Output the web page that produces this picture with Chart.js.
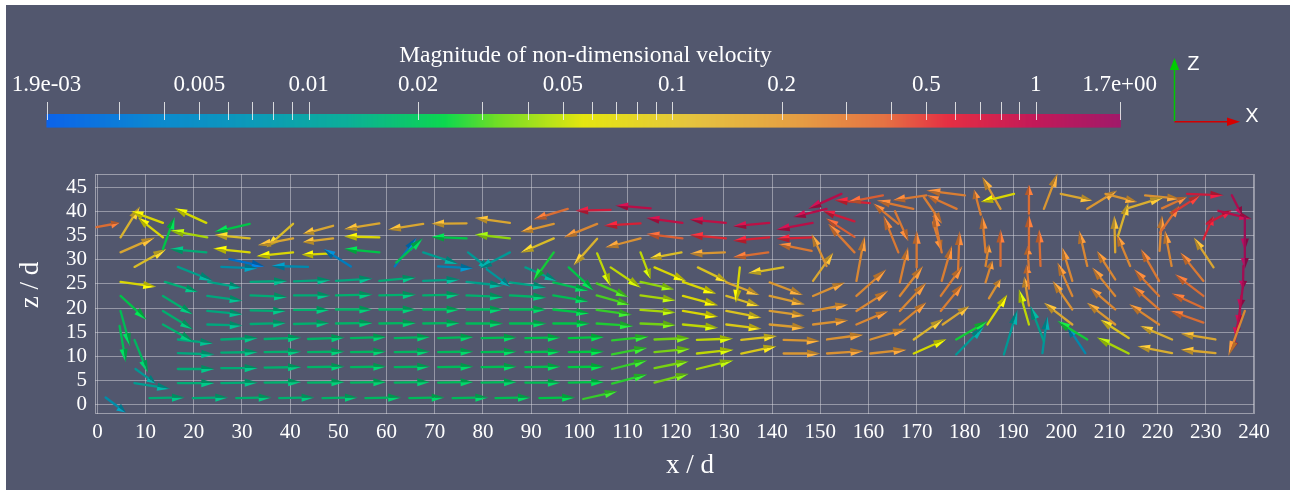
<!DOCTYPE html>
<html>
<head>
<meta charset="utf-8">
<script src="https://cdn.jsdelivr.net/npm/chart.js@4.4.0/dist/chart.umd.min.js"></script>
<style>
  html, body { margin: 0; padding: 0; background: #ffffff; }
  #velChart { display: block; }
</style>
</head>
<body>
<canvas id="velChart" width="1290" height="490"></canvas>
<script>
// ---- data: arrows as [x/d, z/d, dx, dz, |u|] (dx,dz = projected glyph in d units) ----
const jetRow01 = [[10.8,1.4,7.3,0.1,0.015],[19.8,1.4,7.3,0.1,0.015],[28.8,1.4,7.3,0.1,0.016],[37.7,1.4,7.3,0.1,0.016],[46.7,1.4,7.3,0.1,0.017],[55.6,1.4,7.4,0.1,0.018],[64.7,1.4,7.3,0.1,0.019],[73.7,1.4,7.4,0.1,0.019],[82.6,1.4,7.3,0.1,0.02],[91.7,1.4,7.4,0.1,0.022],[100.8,1.2,7.1,1.6,0.028]];
const jetRow05 = [[16.7,4.5,7.6,0,0.015],[25.7,4.5,7.6,0.1,0.015],[34.7,4.6,7.6,0.1,0.016],[43.7,4.6,7.6,0.1,0.017],[52.6,4.6,7.3,0.1,0.018],[61.7,4.6,7.3,0.1,0.018],[70.7,4.6,7.3,0.1,0.019],[79.7,4.6,7.3,0.1,0.019],[88.8,4.6,7.3,0,0.02],[97.8,4.6,7.3,0.1,0.022],[106.8,4.4,7.3,1.9,0.027],[115.6,4.6,7.1,1.8,0.035]];
const jetRow08 = [[16.7,7.4,7.6,0,0.015],[25.7,7.6,7.6,0,0.015],[34.7,7.7,7.6,0.1,0.016],[43.7,7.8,7.6,0.1,0.017],[52.6,7.8,7.3,0.1,0.018],[61.7,7.8,7.3,0.1,0.018],[70.7,7.8,7.3,0.1,0.019],[79.7,7.8,7.3,0.1,0.02],[88.8,7.8,7.3,0.1,0.021],[97.8,7.8,7.3,0.1,0.023],[106.8,7.4,7.3,1.8,0.028],[115.6,7.6,7.1,1.4,0.036],[124.4,7.4,7.6,1.8,0.045]];
const jetRow11 = [[16.7,10.7,7.6,-0.3,0.014],[25.7,10.8,7.6,0.1,0.015],[34.7,10.9,7.6,0.1,0.016],[43.7,10.9,7.6,0.1,0.017],[52.6,10.9,7.3,0.1,0.018],[61.7,10.9,7.3,0.1,0.018],[70.7,10.9,7.3,0.1,0.019],[79.7,10.9,7.3,0.1,0.02],[88.8,10.9,7.3,0.1,0.021],[97.8,10.9,7.3,0.1,0.023],[106.8,10.4,7.3,1.4,0.028],[115.6,10.9,7.4,0.7,0.036],[124.4,10.6,7.6,0.8,0.05],[133.6,10.6,7.3,1.5,0.08],[142.4,10.6,7.6,0,0.2],[151.4,10.6,7.6,0.5,0.22],[160.4,10.6,7.5,0.8,0.22],[169.4,10.6,6.8,3.0,0.055]];
const jetRow14 = [[16.7,13.5,7.3,-0.8,0.014],[25.7,13.5,7.6,0.3,0.015],[34.7,13.6,7.6,0.3,0.016],[43.7,13.6,7.6,0.3,0.017],[52.6,13.8,7.3,0.2,0.018],[61.7,13.8,7.3,0.2,0.018],[70.7,13.8,7.3,0.2,0.019],[79.7,13.8,7.3,0.1,0.02],[88.8,13.8,7.3,0.1,0.021],[97.8,13.8,7.3,0.2,0.023],[106.8,13.3,7.6,0.8,0.027],[115.6,13.5,7.3,0.3,0.035],[124.4,13.4,7.5,0.3,0.05],[133.6,13.4,7.4,0.8,0.09],[142.4,13.4,7.5,-0.2,0.2],[151.4,13.5,7.5,1.0,0.22],[160.4,13.5,7.5,2.2,0.22],[169.4,13.5,6.1,4.3,0.12]];
const jetRow17 = [[22.8,16.6,7.3,-0.2,0.014],[31.8,16.7,7.3,0.2,0.015],[40.8,16.7,7.3,0.2,0.016],[49.5,16.8,7.6,0.1,0.017],[58.5,16.8,7.6,0.1,0.018],[67.6,16.8,7.6,0.1,0.018],[76.6,16.8,7.6,0,0.019],[85.6,16.8,7.6,0,0.02],[94.6,16.8,7.6,0,0.022],[103.6,16.8,7.6,-0.5,0.026],[112.7,16.8,7.3,-0.3,0.035],[121.5,16.6,7.3,-0.7,0.05],[130.5,16.6,7.3,-0.9,0.08],[139.5,16.6,7.3,-0.7,0.18],[148.5,16.6,7.3,0.9,0.22],[157.5,16.6,6.6,2.8,0.25],[166.5,16.6,5.5,4.6,0.25],[175.4,16.6,5.5,3.8,0.15]];
const jetRow20 = [[22.8,19.4,7.3,-0.7,0.014],[31.8,19.5,7.3,-0.1,0.015],[40.8,19.6,7.3,0,0.016],[49.5,19.7,7.6,0,0.017],[58.5,19.7,7.6,0,0.017],[67.6,19.7,7.6,0,0.018],[76.6,19.7,7.6,0,0.018],[85.6,19.7,7.6,0,0.019],[94.6,19.7,7.5,-0.8,0.022],[103.6,19.6,7.3,-1.0,0.028],[112.7,19.6,7.3,-0.5,0.045],[121.5,19.4,7.3,-1.2,0.06],[130.5,19.4,7.3,-1.4,0.09],[139.5,19.4,7.3,-1.0,0.18],[148.5,19.4,7.3,1.4,0.22],[157.5,19.4,6.6,4.2,0.25],[166.5,19.4,5.5,5.9,0.25],[175.0,19.4,4.5,5.5,0.28]];
const jetRow23 = [[22.8,22.5,7.3,-1.0,0.014],[31.8,22.6,7.6,-0.3,0.015],[40.8,22.6,7.6,0,0.015],[49.5,22.6,7.6,0.2,0.016],[58.5,22.6,7.6,0.2,0.016],[67.6,22.6,7.6,0.2,0.016],[76.6,22.6,7.6,-0.3,0.016],[85.6,22.6,7.6,-0.4,0.017],[94.6,22.6,7.3,-1.2,0.02],[103.6,22.6,6.9,-1.9,0.03],[112.7,22.6,7.3,-1.0,0.045],[121.5,22.5,7.3,-1.9,0.06],[130.5,22.5,6.9,-2.1,0.1],[139.5,22.5,7.3,-1.7,0.18],[148.5,22.5,6.6,2.8,0.22],[157.5,22.5,6.2,5.5,0.25],[166.5,22.5,4.8,6.2,0.25],[175.0,22.5,4.5,6.2,0.28]];
const jetRow25 = [[23.0,25.4,6.9,-1.2,0.013],[31.8,25.4,7.6,0.2,0.014],[40.8,25.5,7.6,0.3,0.014],[49.5,25.6,7.6,0.5,0.014],[58.5,25.6,7.6,0.7,0.015],[67.6,25.6,7.6,0.3,0.013],[76.6,25.4,7.6,-0.8,0.012],[85.6,25.3,7.6,-1.0,0.013],[94.6,25.3,7.3,-1.7,0.02],[103.6,25.1,6.6,-2.8,0.03],[112.7,25.4,7.0,-1.5,0.04],[121.5,25.4,6.9,-2.4,0.06],[130.5,25.3,6.9,-2.6,0.15],[139.5,25.3,6.9,-2.6,0.2],[148.5,25.6,4.2,5.9,0.15],[157.5,25.6,1.7,9.3,0.25],[166.5,25.3,1.7,7.3,0.27],[175.2,25.6,2.1,7.3,0.28]];

const inletVortex = [[1.7,1.5,4.2,-3.1,0.007],[7.7,4.5,7.4,-1.2,0.011],[7.9,7.4,4.2,-3.0,0.01],[7.7,13.4,2.8,-6.8,0.018],[4.6,16.3,1.3,-7.5,0.02],[4.8,19.4,2.0,-7.3,0.02],[4.8,22.5,5.4,-4.9,0.022],[4.8,25.4,7.4,-1.0,0.06],[13.6,22.5,6.2,-3.8,0.016],[13.6,19.4,6.2,-3.8,0.016],[13.6,16.6,6.2,-3.5,0.016],[14.0,25.4,6.9,-2.1,0.015],[16.7,28.5,7.3,-2.9,0.012],[7.7,28.5,6.6,3.7,0.1],[4.8,31.5,7.1,3.1,0.15],[13.6,32.2,2.4,6.6,0.022],[4.8,34.6,4.0,6.4,0.12],[13.6,34.6,-5.2,4.1,0.06],[13.6,37.6,-6.6,2.4,0.06],[-0.2,36.7,4.8,0.9,0.35],[22.6,37.6,-6.6,3.0,0.055],[22.8,34.6,-7.7,1.4,0.045],[22.6,31.5,-7.6,0.7,0.015]];

const upperReturn = [[31.6,37.4,-7.3,-1.7,0.022],[31.6,34.4,-7.3,0.7,0.1],[31.6,31.5,-7.6,0.8,0.06],[40.6,37.4,-5.5,-4.9,0.1],[40.6,34.4,-7.3,-1.4,0.15],[40.6,31.5,-7.6,-0.8,0.06],[48.9,37.0,-6.3,-1.7,0.15],[48.9,34.4,-6.3,-0.8,0.15],[48.9,31.3,-6.5,-0.3,0.06],
  [27.4,30.1,7.3,-1.5,0.003],[25.7,28.5,7.6,-0.3,0.007],[43.7,28.5,-7.6,0.2,0.006],[52.6,28.6,-5.7,3.6,0.004],[61.7,28.6,4.5,5.9,0.0035],[62.0,29.4,5.5,5.0,0.02],[70.7,28.6,7.3,-0.4,0.005],[67.6,31.5,7.3,-2.4,0.011],
  [58.5,31.5,-7.3,0.7,0.022],[58.5,34.6,-7.3,0.2,0.06],[58.5,37.5,-7.3,-1.2,0.15],[67.6,37.4,-7.3,-1.2,0.15],[76.6,37.5,-7.3,-0.1,0.15],[85.6,37.6,-7.3,1.0,0.15],[76.6,34.4,-7.3,0.3,0.022],[85.6,34.4,-7.3,0.8,0.04],
  [76.9,31.5,4.2,-3.3,0.01],[85.6,31.5,-6.3,-3.3,0.01],[80.8,28.0,4.9,-3.6,0.009],[88.8,28.4,6.6,-2.8,0.012],[94.7,31.5,-4.2,-5.9,0.025],[97.8,28.4,5.2,-4.8,0.022],[103.7,31.3,2.8,-6.8,0.05],[106.5,28.4,6.3,-4.2,0.05],[112.7,31.5,2.1,-5.5,0.05],
  [94.7,37.4,-6.9,-1.7,0.2],[94.7,34.4,-6.9,-3.0,0.1],[97.6,40.5,-7.1,-2.2,0.35],[103.7,37.4,-6.9,-2.8,0.25],[103.7,34.3,-4.9,-5.5,0.12],[106.5,40.3,-7.3,-0.2,0.7],[112.7,37.5,-7.6,-0.5,0.6],[112.7,34.4,-7.3,-1.9,0.22],[114.8,40.6,-7.3,0.6,0.95],
  [115.6,28.4,6.6,-2.8,0.06],[124.6,28.4,6.2,-3.0,0.09],[133.3,28.4,-0.8,-7.3,0.06],[142.3,28.4,-7.3,-1.2,0.1],[121.2,31.5,-6.6,-1.2,0.1],[130.2,31.5,-7.3,-0.3,0.2],[139.2,31.5,-7.3,-1.0,0.35],[148.2,31.8,-6.9,1.4,0.3],
  [121.4,34.4,-7.5,0.9,0.4],[130.4,34.4,-7.5,0.7,0.55],[139.4,34.6,-7.5,-0.7,0.6],[148.4,34.6,-7.5,-0.3,0.6],[121.4,37.6,-7.5,1.0,0.9],[130.4,37.6,-7.5,0.7,0.9],[139.4,37.6,-7.5,-0.7,0.9],[148.4,37.6,-7.5,-1.4,0.95]];

const wakeVortex = [[151.3,40.5,-6.9,-1.7,1.0],[154.4,43.6,-6.9,-3.1,1.0],[157.1,37.9,-6.6,2.2,0.7],[157.1,34.7,-5.9,3.8,0.4],[157.1,31.5,-5.5,5.9,0.3],[151.3,28.7,-3.1,6.6,0.22],
  [160.3,41.7,-7.3,0.6,0.6],[163.0,43.3,-7.3,-1.4,0.4],[165.5,40.0,2.8,-6.2,0.3],[166.2,37.4,-5.2,4.2,0.3],[166.2,31.5,-3.1,7.6,0.3],[169.3,40.5,-7.6,1.7,0.3],[170.0,28.4,0,7.6,0.3],[172.0,43.3,-6.9,-1.0,0.3],
  [171.5,42.9,3.8,-5.5,0.28],[173.4,37.7,1.8,-5.9,0.28],[175.2,31.5,-1.7,8.3,0.3],[178.6,27.9,0.3,8.0,0.3],[178.3,40.5,-6.2,2.8,0.3],[180.0,43.3,-8.0,1.0,0.28],
  [178.2,13.5,6.5,3.8,0.025],[178.2,10.4,5.8,5.9,0.01],[184.7,16.6,4.1,6.2,0.06],[188.1,10.4,2.8,9.3,0.01],[193.3,16.6,-2.1,7.3,0.05],[196.1,10.7,1.0,7.6,0.009],[196.4,13.1,-2.8,7.3,0.012],[193.3,20.5,-1.0,6.0,0.2],
  [205.0,10.7,-3.8,5.7,0.006],[205.4,13.5,-6.2,3.8,0.025],[214.0,10.6,-6.6,3.3,0.045],[214.0,13.8,-5.9,3.8,0.09],[223.0,10.7,-7.2,1.4,0.13],[223.0,13.5,-6.6,2.8,0.13],[232.0,10.7,-7.2,0.7,0.15],[232.0,13.5,-7.2,1.2,0.15],
  [229.5,17.0,-6.9,2.4,0.35],[229.5,20.0,-6.6,3.0,0.35],[229.5,22.5,-5.9,4.5,0.35],[229.5,25.6,-4.8,5.9,0.3],[220.3,16.6,-6.2,4.2,0.25],[220.3,19.7,-5.5,4.8,0.3],[220.3,22.5,-5.2,5.5,0.3],[220.3,25.6,-3.8,6.6,0.3],
  [211.2,16.6,-5.9,4.5,0.2],[211.2,19.7,-5.2,4.5,0.25],[211.2,22.5,-4.8,5.9,0.25],[211.2,25.9,-3.8,5.9,0.25],[202.3,16.6,-5.9,4.5,0.15],[202.3,19.7,-4.1,5.9,0.22],[202.3,22.5,-3.1,6.9,0.25],[202.3,25.6,-2.1,6.9,0.25],
  [205.4,28.7,-1.7,7.3,0.25],[214.3,28.7,-2.8,6.6,0.25],[211.2,31.5,-0.2,7.6,0.15],[211.8,34.9,2.1,6.9,0.12],[220.4,31.8,0.5,7.3,0.25],[222.9,28.7,-1.4,7.3,0.25],[220.5,35.6,4.0,5.6,0.35],[231.6,28.4,-4.1,6.2,0.15],
  [184.3,25.3,1.4,4.5,0.25],[185.0,22.0,2.4,4.0,0.22],[184.3,28.7,0.7,4.5,0.25],[184.3,31.5,-0.7,7.6,0.28],[183.3,39.3,-1.4,5.2,0.28],[187.4,28.7,0,7.6,0.35],[193.3,24.0,-0.5,5.0,0.3],[193.3,28.0,-0.3,4.8,0.3],
  [193.3,32.0,0,7.3,0.35],[193.3,39.5,0,6.0,0.35],[195.7,28.7,-0.3,7.6,0.35],[196.4,40.5,2.8,7.3,0.2],[187.4,40.5,-3.8,6.6,0.2],[190.2,43.6,-6.9,-1.7,0.06],[199.9,43.6,6.6,-1.4,0.15],[205.4,40.5,6.2,3.8,0.2],
  [209.2,43.6,6.6,-1.7,0.2],[217.4,43.3,7.2,-0.7,0.22],[213.7,40.6,7.6,2.3,0.13],[220.9,40.6,5.2,2.4,0.3],[226.1,43.6,7.6,-0.3,0.7],[223.3,39.8,5.5,3.5,0.5],[229.5,34.2,2.1,4.8,0.6],[230.2,37.4,5.2,2.8,0.7],
  [232.6,40.1,6.9,-1.7,1.0],[235.4,43.3,2.1,-4.1,1.2],[238.1,38.8,0,-6.9,1.5],[238.1,34.3,0,-6.2,1.5],[237.8,28.7,-0.1,-4.8,1.4],[237.8,25.3,-0.7,-5.5,1.3],[237.4,22.5,-0.7,-6.2,1.1],[237.1,19.0,-1.0,-4.8,1.0],
  [236.8,16.3,-1.4,-5.2,0.8],[238.1,19.4,-3.4,-9.3,0.25]];

const arrowGroups = [jetRow01, jetRow05, jetRow08, jetRow11, jetRow14, jetRow17, jetRow20, jetRow23, jetRow25, inletVortex, upperReturn, wakeVortex];

// axis ticks
const xTicks = [0,10,20,30,40,50,60,70,80,90,100,110,120,130,140,150,160,170,180,190,200,210,220,230,240];
const zTicks = [0,5,10,15,20,25,30,35,40,45];

// colour bar (log scale)
const cbMin = 0.0019, cbMax = 1.7;
const cbTicks = [0.0019,0.003,0.004,0.005,0.006,0.007,0.008,0.009,0.01,0.02,0.03,0.04,0.05,0.06,0.07,0.08,0.09,0.1,0.2,0.3,0.4,0.5,0.6,0.7,0.8,0.9,1,1.7];
const cbLabelValues = [0.0019,0.005,0.01,0.02,0.05,0.1,0.2,0.5,1,1.7];
const cbLabelTexts = ['1.9e-03','0.005','0.01','0.02','0.05','0.1','0.2','0.5','1','1.7e+00'];
const cbStops = [[0,0,102,255],[0.1,0,145,225],[0.2,0,168,195],[0.28,0,190,160],[0.34,0,220,105],[0.37,0,238,75],[0.42,120,245,25],[0.5,255,255,0],[0.6,255,215,55],[0.7,255,170,60],[0.78,255,120,60],[0.84,255,40,60],[0.92,215,15,85],[1,175,15,105]];

const BG = 'rgb(82,87,110)';
const SERIF = "'Liberation Serif', 'Times New Roman', serif";
const SANS = "'Liberation Sans', Arial, sans-serif";

function cbFrac(v) {
    return (Math.log(v) - Math.log(cbMin)) / (Math.log(cbMax) - Math.log(cbMin));
}

function colorAt(f) {
    f = Math.max(0, Math.min(1, f));
    for (let i = 1; i < cbStops.length; i++) {
        if (f <= cbStops[i][0]) {
            const a = cbStops[i-1], b = cbStops[i];
            const t = (f - a[0]) / (b[0] - a[0]);
            return [a[1] + (b[1]-a[1])*t, a[2] + (b[2]-a[2])*t, a[3] + (b[3]-a[3])*t];
        }
    }
    const l = cbStops[cbStops.length-1];
    return [l[1], l[2], l[3]];
}

function rgb(c, k) {
    k = k || 1;
    return 'rgb(' + Math.round(Math.min(255, c[0]*k)) + ',' + Math.round(Math.min(255, c[1]*k)) + ',' + Math.round(Math.min(255, c[2]*k)) + ')';
}

function drawArrow(ctx, x0, y0, x1, y1, col) {
    const dx = x1 - x0, dy = y1 - y0, L = Math.hypot(dx, dy);
    if (L < 1) return;
    const ux = dx / L, uy = dy / L, nx = -uy, ny = ux;
    const hl = Math.min(0.36 * L, 15), hw = 4.1;
    const bx = x1 - ux * hl, by = y1 - uy * hl;
    ctx.lineCap = 'round';
    ctx.strokeStyle = rgb(col, 0.85);
    ctx.lineWidth = 2.3;
    ctx.beginPath(); ctx.moveTo(x0, y0); ctx.lineTo(bx + ux, by + uy); ctx.stroke();
    // cone, two shaded halves
    ctx.fillStyle = rgb(col, 1.0);
    ctx.beginPath(); ctx.moveTo(x1, y1); ctx.lineTo(bx + nx*hw, by + ny*hw); ctx.lineTo(bx, by); ctx.closePath(); ctx.fill();
    ctx.fillStyle = rgb(col, 0.7);
    ctx.beginPath(); ctx.moveTo(x1, y1); ctx.lineTo(bx - nx*hw, by - ny*hw); ctx.lineTo(bx, by); ctx.closePath(); ctx.fill();
}

const backgroundPlugin = {
    id: 'background',
    beforeDraw(chart) {
        const ctx = chart.ctx;
        ctx.save();
        ctx.fillStyle = '#ffffff';
        ctx.fillRect(0, 0, chart.width, chart.height);
        ctx.fillStyle = BG;
        ctx.fillRect(6, 5, chart.width - 6, chart.height - 5);
        ctx.restore();
    }
};

const arrowPlugin = {
    id: 'arrows',
    afterDatasetsDraw(chart) {
        const ctx = chart.ctx, xs = chart.scales.x, ys = chart.scales.y, a = chart.chartArea;
        ctx.save();
        // outer box of the grid
        ctx.strokeStyle = 'rgba(215,215,222,0.55)';
        ctx.lineWidth = 1;
        ctx.strokeRect(a.left + 0.5, a.top + 0.5, a.right - a.left - 1, a.bottom - a.top - 1);
        arrowGroups.forEach(group => {
            group.forEach(d => {
                const col = colorAt(cbFrac(d[4]));
                drawArrow(ctx, xs.getPixelForValue(d[0]), ys.getPixelForValue(d[1]),
                    xs.getPixelForValue(d[0] + d[2]), ys.getPixelForValue(d[1] + d[3]), col);
            });
        });
        ctx.restore();
    }
};

const annotationPlugin = {
    id: 'annotations',
    afterDraw(chart) {
        const ctx = chart.ctx;
        const cbL = 46.5, cbR = 1119.6, cbT = 114, cbB = 127.5;
        ctx.save();
        // colour bar
        for (let px = cbL; px < cbR; px++) {
            ctx.fillStyle = rgb(colorAt((px - cbL) / (cbR - cbL)));
            ctx.fillRect(px, cbT, 1.2, cbB - cbT);
        }
        ctx.strokeStyle = 'rgba(240,240,240,0.85)';
        ctx.lineWidth = 1;
        cbTicks.forEach(v => {
            const px = Math.round(cbL + cbFrac(v) * (cbR - cbL)) + 0.5;
            ctx.beginPath(); ctx.moveTo(px, 102); ctx.lineTo(px, 120); ctx.stroke();
        });
        ctx.fillStyle = '#ffffff';
        ctx.font = '23px ' + SERIF;
        ctx.textAlign = 'center';
        ctx.textBaseline = 'alphabetic';
        cbLabelValues.forEach((v, i) => {
            ctx.fillText(cbLabelTexts[i], cbL + cbFrac(v) * (cbR - cbL), 91);
        });
        ctx.font = '23.5px ' + SERIF;
        ctx.fillText('Magnitude of non-dimensional velocity', 585.5, 62);

        // axis titles
        ctx.font = '27px ' + SERIF;
        ctx.textBaseline = 'middle';
        ctx.fillText('x / d', 690, 466);
        ctx.save();
        ctx.translate(31, 285);
        ctx.rotate(-Math.PI / 2);
        ctx.fillText('z / d', 0, 0);
        ctx.restore();

        // orientation axes
        ctx.lineWidth = 1.5;
        ctx.strokeStyle = 'rgb(0,200,0)';
        ctx.beginPath(); ctx.moveTo(1174.5, 121); ctx.lineTo(1174.5, 69); ctx.stroke();
        ctx.fillStyle = 'rgb(0,205,0)';
        ctx.beginPath(); ctx.moveTo(1174.5, 58); ctx.lineTo(1179.2, 70); ctx.lineTo(1169.8, 70); ctx.closePath(); ctx.fill();
        ctx.strokeStyle = 'rgb(210,0,0)';
        ctx.beginPath(); ctx.moveTo(1174.5, 121.7); ctx.lineTo(1228, 121.7); ctx.stroke();
        ctx.fillStyle = 'rgb(215,0,0)';
        ctx.beginPath(); ctx.moveTo(1240, 121.7); ctx.lineTo(1227, 117.5); ctx.lineTo(1227, 125.9); ctx.closePath(); ctx.fill();
        ctx.fillStyle = '#ffffff';
        ctx.font = '20px ' + SANS;
        ctx.fillText('Z', 1193.3, 64);
        ctx.fillText('X', 1251.8, 116.5);
        ctx.restore();
    }
};

const allPoints = [];
arrowGroups.forEach(g => g.forEach(d => allPoints.push({x: d[0], y: d[1]})));

const tickFont = { family: SERIF, size: 21 };
const gridColor = 'rgba(215,215,222,0.5)';

const myChart = new Chart(document.getElementById('velChart'), {
    type: 'scatter',
    data: {
        datasets: [{ label: 'velocity', data: allPoints, pointRadius: 0, pointHoverRadius: 0 }]
    },
    options: {
        responsive: false,
        animation: false,
        events: [],
        layout: { padding: { left: 0, top: 174, right: 36, bottom: 0 } },
        plugins: { legend: { display: false }, tooltip: { enabled: false } },
        scales: {
            x: {
                type: 'linear', min: -0.5, max: 240,
                afterBuildTicks: s => { s.ticks = xTicks.map(v => ({ value: v })); },
                afterFit: s => { s.height = 76; },
                grid: { color: gridColor, drawTicks: false },
                border: { display: false },
                ticks: { color: '#ffffff', font: tickFont, padding: 6, maxRotation: 0, autoSkip: false }
            },
            y: {
                type: 'linear', min: -1.9, max: 47.7,
                afterBuildTicks: s => { s.ticks = zTicks.map(v => ({ value: v })); },
                afterFit: s => { s.width = 95; },
                grid: { color: gridColor, drawTicks: false },
                border: { display: false },
                ticks: { color: '#ffffff', font: tickFont, padding: 8, autoSkip: false }
            }
        }
    },
    plugins: [backgroundPlugin, arrowPlugin, annotationPlugin]
});
</script>
</body>
</html>
